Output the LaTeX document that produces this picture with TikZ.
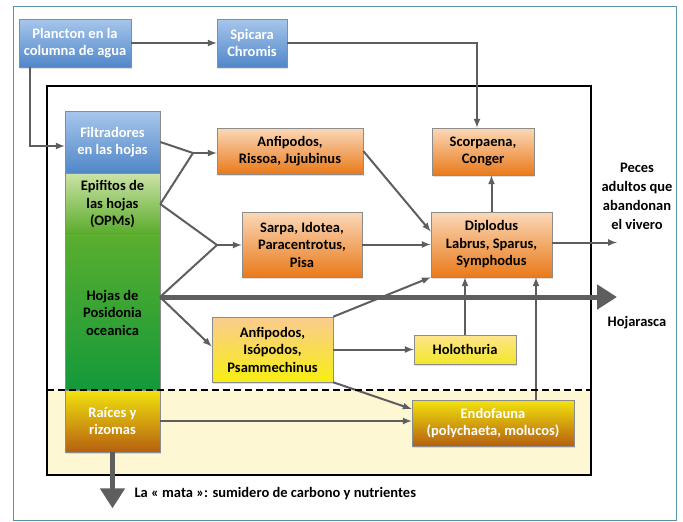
\documentclass[tikz,border=0pt]{standalone}
\usepackage{fontspec}
\setmainfont{Carlito}
\usetikzlibrary{arrows.meta}
\usetikzlibrary{positioning}
\usetikzlibrary{calc}
\usetikzlibrary{shadows}

\definecolor{bluetop}{HTML}{A7C6EC}
\definecolor{bluebot}{HTML}{5087C8}
\definecolor{orangetop}{HTML}{FBD8B8}
\definecolor{orangebot}{HTML}{E97A1A}
\definecolor{isotop}{HTML}{FBCB90}
\definecolor{isobot}{HTML}{F7EE12}
\definecolor{holotop}{HTML}{FDE58C}
\definecolor{holobot}{HTML}{F3E628}
\definecolor{rootop}{HTML}{F2E30E}
\definecolor{roobot}{HTML}{B5600F}
\definecolor{epitop}{HTML}{CDE3A6}
\definecolor{epibot}{HTML}{58AA2A}
\definecolor{leaftop}{HTML}{5AAE2E}
\definecolor{leafbot}{HTML}{13993A}
\definecolor{linkgray}{HTML}{5E5E5E}
\definecolor{sandfill}{HTML}{FDF7D3}
\definecolor{framecol}{HTML}{5B93AD}

\begin{document}
\begin{tikzpicture}[
    x=1pt, y=-1pt,
    >=latex,
    box/.style = {
      draw=black!45, line width=0.6pt,
      inner sep=0pt, align=center,
      font=\fontsize{14.5}{17.5}\selectfont\bfseries,
      drop shadow={opacity=.25, shadow xshift=1pt, shadow yshift=-1.5pt},
    },
    bluebox/.style = {box, top color=bluetop, bottom color=bluebot, text=white},
    orangebox/.style = {box, top color=orangetop, bottom color=orangebot},
    link/.style = {draw=linkgray, line width=2pt, ->},
    bigarrow/.style = {
      draw=linkgray, fill=linkgray, line width=5pt,
      -{Triangle[length=20pt, width=24pt]},
    },
    label/.style = {align=center, font=\fontsize{14.5}{19}\selectfont\bfseries},
  ]
  \useasboundingbox (0,0) rectangle (683,522);
  \draw[framecol, line width=0.8pt] (13,6) rectangle (676,520);

  % herbier et sediment
  \fill[sandfill] (47,390) rectangle (591,475);
  \draw[line width=2.5pt] (47,86) rectangle (591,475);

  \node[bluebox, minimum width=112, minimum height=48]
    (plancton) at (75,43) {Plancton en la\\columna de agua};
  \node[bluebox, minimum width=70, minimum height=48]
    (spicara) at (252,43) {Spicara\\Chromis};

  \node[bluebox, minimum width=95, minimum height=62]
    (filtr) at (112.5,142) {Filtradores\\en las hojas};
  \node[box, top color=epitop, bottom color=epibot, minimum width=95, minimum height=62]
    (epif) at (112.5,204) {Epifitos de\\las hojas\\(OPMs)};
  \node[box, top color=leaftop, bottom color=leafbot, minimum width=95, minimum height=155]
    (hojas) at (112.5,312.5) {Hojas de\\Posidonia\\oceanica};
  \node[box, top color=rootop, bottom color=roobot, text=white, minimum width=95, minimum height=62]
    (raices) at (112.5,421) {Raíces y\\rizomas};

  \node[orangebox, minimum width=146, minimum height=46]
    (anfi) at (290,151) {Anfipodos,\\Rissoa, Jujubinus};
  \node[orangebox, minimum width=102, minimum height=47]
    (scorp) at (483,151.5) {Scorpaena,\\Conger};
  \node[orangebox, minimum width=120, minimum height=65]
    (sarpa) at (302,244.5) {Sarpa, Idotea,\\Paracentrotus,\\Pisa};
  \node[orangebox, minimum width=121, minimum height=65]
    (diplo) at (491.5,244.5) {Diplodus\\Labrus, Sparus,\\Symphodus};
  \node[box, top color=isotop, bottom color=isobot, minimum width=121, minimum height=65]
    (isop) at (272.5,349.5) {Anfipodos,\\Isópodos,\\Psammechinus};
  \node[box, top color=holotop, bottom color=holobot, minimum width=102, minimum height=29]
    (holo) at (465,349.5) {Holothuria};
  \node[box, top color=rootop, bottom color=roobot, text=white, minimum width=162, minimum height=46]
    (endo) at (493,423) {Endofauna\\(polychaeta, molucos)};

  \node[label] (peces) at (637,196) {Peces\\adultos que\\abandonan\\el vivero};
  \node[label] (hojarasca) at (637,323) {Hojarasca};
  \node[label, anchor=west] (mata) at (131,494)
    {La « mata »: sumidero de carbono y nutrientes};

  \coordinate (j1) at (193,153);
  \coordinate (j2) at (217,245);
  \coordinate (hj) at (160,297);
  \coordinate (out) at (617,0);
  \coordinate (eu) at ($(endo.north)+(43,0)$);
  \coordinate (de) at ($(diplo.east)+(0,-2)$);

  \draw[bigarrow] (hj) -- (hj -| out);
  \draw[bigarrow] (raices.south) -- ++(0,56);

  \draw[link] (plancton) -- (spicara);
  \draw[link] ($(plancton.south west)+(11,0)$) |- ($(filtr.west)+(0,4)$);
  \draw[link] (spicara.east) -| ($(scorp.north)+(-6,0)$);

  \draw[link, -] (filtr.east) -- (j1);
  \draw[link, -] (epif.east) -- (j1);
  \draw[link] (j1) -- (anfi.west |- j1);
  \draw[link, -] (epif.east) -- (j2);
  \draw[link, -] (hj) -- (j2);
  \draw[link] (j2) -- (sarpa.west |- j2);
  \draw[link] (hj) -- ($(isop.west)+(0,-3)$);

  \draw[link] (anfi.east) -- ($(diplo.west)+(0,-13)$);
  \draw[link] (sarpa.east) -- (diplo.west);
  \draw[link] (isop.north east) -- (diplo.south west);
  \draw[link] (isop.east) -- (holo.west);
  \draw[link] (holo.north) -- (holo.north |- diplo.south);
  \draw[link] (eu) -- (eu |- diplo.south);
  \draw[link] (diplo.north) -- (diplo.north |- scorp.south);
  \draw[link] (de) -- (de -| out);
  \draw[link] (isop.south east) -- ($(endo.west)+(0,-14)$);
  \draw[link] (raices.east) -- (raices.east -| endo.west);

  \draw[line width=2.5pt, dash pattern=on 7pt off 4pt] (47,390) -- (591,390);
\end{tikzpicture}
\end{document}
